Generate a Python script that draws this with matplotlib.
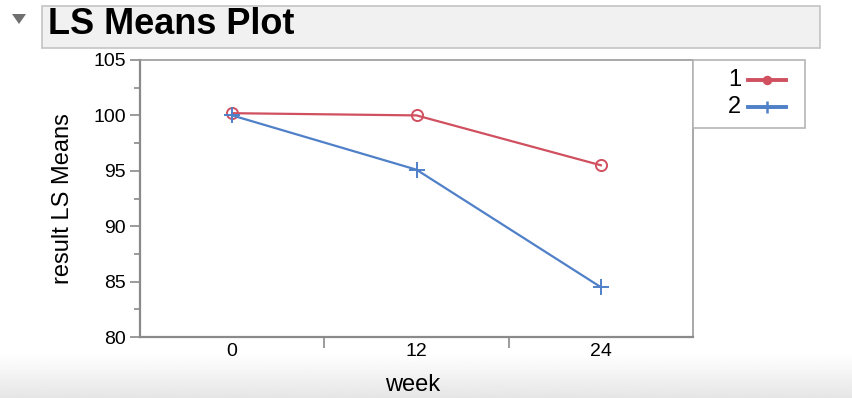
import numpy as np
import matplotlib.pyplot as plt
from matplotlib.patches import Rectangle, Polygon
from matplotlib.lines import Line2D

plt.rcParams['font.family'] = ['Liberation Sans', 'DejaVu Sans']

# LS means
weeks = ['0', '12', '24']
group1 = [100.2, 100.0, 95.5]
group2 = [100.0, 95.1, 84.5]
group_labels = ['1', '2']

red = '#d0505f'
blue = '#4f80c8'
spine_col = '#8a8a8a'

W, H = 852, 398
fig = plt.figure(figsize=(W / 100, H / 100), dpi=100)

# light grey band at the bottom of the window
bg = fig.add_axes([0, 0, 1, 0.11], zorder=-5)
grad = np.linspace(1.0, 0.9, 50).reshape(-1, 1)
bg.imshow(grad, aspect='auto', cmap='gray', vmin=0, vmax=1, extent=[0, 1, 0, 1])
bg.axis('off')

# title bar with outline triangle
fig.patches.append(Rectangle((42 / W, 1 - 48 / H), 778 / W, 42 / H,
                             transform=fig.transFigure, facecolor='#f1f1f1',
                             edgecolor='#c4c4c4', linewidth=1.2))
fig.patches.append(Polygon([(12 / W, 1 - 14 / H), (26 / W, 1 - 14 / H),
                            (19 / W, 1 - 24 / H)], closed=True,
                           transform=fig.transFigure, facecolor='#707070',
                           edgecolor='none'))
fig.text(48 / W, 1 - 25 / H, 'LS Means Plot', fontsize=26, fontweight='bold',
         va='center', ha='left')

ax = fig.add_axes([140 / W, 61 / H, 553 / W, 277 / H])
x = np.arange(len(weeks))
ax.plot(x, group1, color=red, linewidth=1.6, marker='o', markersize=8,
        markerfacecolor='none', markeredgecolor=red, markeredgewidth=1.4)
ax.plot(x, group2, color=blue, linewidth=1.6, marker='+', markersize=12,
        markeredgewidth=1.4)

ax.set_xlim(-0.5, 2.5)
ax.set_ylim(80, 105)
ax.set_yticks(np.arange(80, 106, 5))
ax.set_yticks(np.arange(82.5, 105, 5), minor=True)
ax.set_xticks([0.5, 1.5])
ax.set_xticklabels([])
ax.set_xticks(x, minor=True)
ax.set_xticklabels(weeks, minor=True)
ax.tick_params(axis='x', which='major', length=8, width=1.2, color=spine_col)
ax.tick_params(axis='x', which='minor', length=0, labelsize=14, pad=4)
ax.tick_params(axis='y', which='major', length=7, width=1.2, color=spine_col,
               labelsize=14, pad=3)
ax.tick_params(axis='y', which='minor', length=4, width=1.2, color=spine_col)
for side in ['left', 'bottom']:
    ax.spines[side].set_color(spine_col)
    ax.spines[side].set_linewidth(1.6)
for side in ['top', 'right']:
    ax.spines[side].set_color('#9a9a9a')
    ax.spines[side].set_linewidth(1.2)

ax.set_ylabel('result LS Means', fontsize=17, labelpad=14)
fig.text(413 / W, 1 - 396 / H, 'week', fontsize=17, ha='center', va='bottom')

# legend box on the right, label before the line sample
fig.patches.append(Rectangle((693 / W, 1 - 128 / H), 112 / W, 68 / H,
                             transform=fig.transFigure, facecolor='white',
                             edgecolor='#b5b5b5', linewidth=1.2))
for i, (lab, col, mk, ms) in enumerate(zip(group_labels, [red, blue],
                                           ['o', '+'], [5, 9])):
    yy = 1 - (80 + 27 * i) / H
    fig.text(741 / W, yy, lab, fontsize=17, ha='right', va='center')
    fig.lines.append(Line2D([748 / W, 786 / W], [yy, yy], transform=fig.transFigure,
                            color=col, linewidth=2.8))
    fig.lines.append(Line2D([767 / W], [yy], transform=fig.transFigure,
                            color=col, marker=mk, markersize=ms,
                            markeredgewidth=1.8, linestyle='none'))

fig.savefig('out.png', dpi=100)
